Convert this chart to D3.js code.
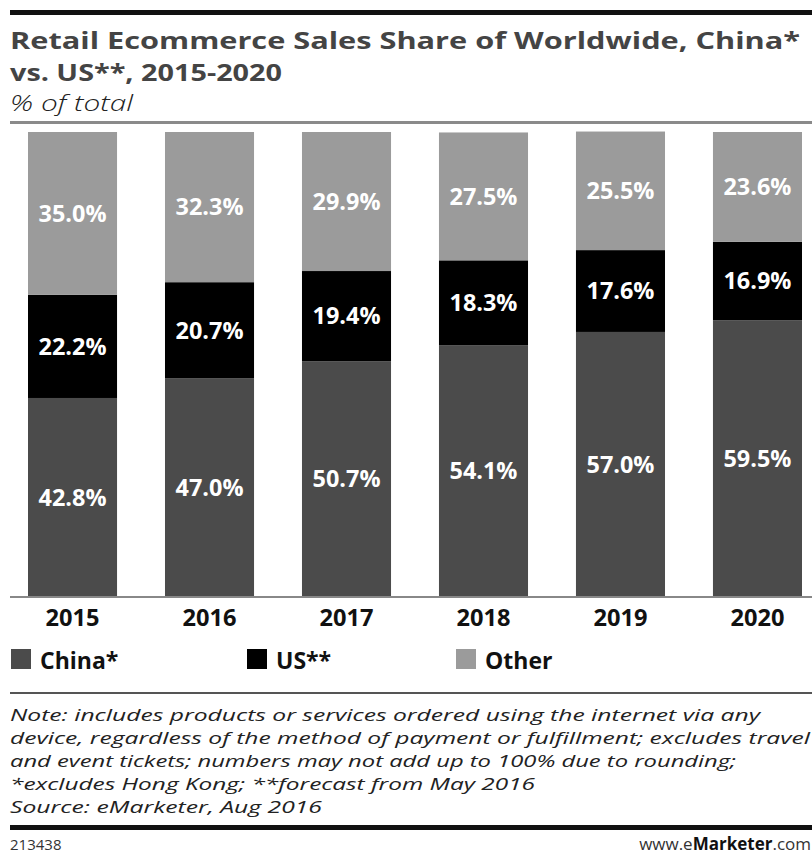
<!DOCTYPE html>
<html>
<head>
<meta charset="utf-8">
<script src="https://cdn.jsdelivr.net/npm/d3@7"></script>
<style>
  html, body { margin: 0; padding: 0; background: #fff; }
  svg { display: block; }
  text { font-family: "Open Sans", "Noto Sans", sans-serif; }
</style>
</head>
<body>
<svg id="chart" width="812" height="854"></svg>
<script>
// Share of worldwide retail ecommerce sales, % of total
const years = ["2015", "2016", "2017", "2018", "2019", "2020"];
const china = [42.8, 47.0, 50.7, 54.1, 57.0, 59.5];
const us = [22.2, 20.7, 19.4, 18.3, 17.6, 16.9];
const other = [35.0, 32.3, 29.9, 27.5, 25.5, 23.6];
const seriesNames = ["China*", "US**", "Other"];
const seriesKeys = ["china", "us", "other"];
const colors = ["#4b4b4b", "#000000", "#9b9b9b"];

const titleLines = ["Retail Ecommerce Sales Share of Worldwide, China*", "vs. US**, 2015-2020"];
const subtitle = "% of total";
const noteLines = [
  "Note: includes products or services ordered using the internet via any",
  "device, regardless of the method of payment or fulfillment; excludes travel",
  "and event tickets; numbers may not add up to 100% due to rounding;",
  "*excludes Hong Kong; **forecast from May 2016",
  "Source: eMarketer, Aug 2016"
];
const chartId = "213438";

const rows = years.map((y, i) => ({ year: y, china: china[i], us: us[i], other: other[i] }));

const svg = d3.select("#chart");

// Header rule, title and subtitle
svg.append("rect").attr("x", 10).attr("y", 10).attr("width", 802).attr("height", 5).attr("fill", "#111");

const titleWidths = [790, 272];
titleLines.forEach((t, i) => {
  svg.append("text")
    .attr("x", 10).attr("y", 49 + i * 32)
    .attr("font-size", 23.4).attr("font-weight", 700).attr("fill", "#444")
    .attr("textLength", titleWidths[i]).attr("lengthAdjust", "spacingAndGlyphs")
    .text(t);
});
svg.append("text")
  .attr("x", 10).attr("y", 111)
  .attr("font-size", 21.5).attr("font-style", "italic").attr("font-weight", 300).attr("fill", "#222")
  .attr("textLength", 123).attr("lengthAdjust", "spacingAndGlyphs")
  .text(subtitle);
svg.append("rect").attr("x", 10).attr("y", 121).attr("width", 802).attr("height", 3).attr("fill", "#8a8a8a");

// Scales
const x = d3.scaleBand().domain(years).range([28, 802]).paddingInner(0.35).paddingOuter(0);
const y = d3.scaleLinear().domain([0, 100]).range([597, 132]);

const stacked = d3.stack().keys(seriesKeys)(rows);

const layers = svg.append("g").selectAll("g")
  .data(stacked).join("g")
  .attr("fill", (d, i) => colors[i]);

layers.selectAll("rect")
  .data(d => d).join("rect")
  .attr("x", d => x(d.data.year))
  .attr("width", x.bandwidth())
  .attr("y", d => y(d[1]))
  .attr("height", d => y(d[0]) - y(d[1]));

// Value labels centred in each segment
const labels = svg.append("g");
stacked.forEach((layer) => {
  layer.forEach(d => {
    const v = d.data[layer.key];
    labels.append("text")
      .attr("x", x(d.data.year) + x.bandwidth() / 2)
      .attr("y", (y(d[0]) + y(d[1])) / 2)
      .attr("dy", "0.36em")
      .attr("text-anchor", "middle")
      .attr("font-size", 23).attr("font-weight", 700).attr("fill", "#fff")
      .attr("textLength", 68).attr("lengthAdjust", "spacingAndGlyphs")
      .text(v.toFixed(1) + "%");
  });
});

// Baseline and year axis
svg.append("rect").attr("x", 10).attr("y", 596).attr("width", 802).attr("height", 2).attr("fill", "#888");
const xAxis = svg.append("g")
  .attr("transform", "translate(0,598)")
  .call(d3.axisBottom(x).tickSize(0).tickPadding(0));
xAxis.select(".domain").remove();
xAxis.selectAll("text")
  .attr("y", 28).attr("dy", 0)
  .attr("font-family", "'Open Sans', sans-serif")
  .attr("font-size", 23).attr("font-weight", 700).attr("fill", "#111")
  .attr("textLength", 54).attr("lengthAdjust", "spacingAndGlyphs");

// Legend
const legendX = [11, 247, 456];
const legend = svg.append("g");
seriesNames.forEach((name, i) => {
  legend.append("rect").attr("x", legendX[i]).attr("y", 649).attr("width", 20).attr("height", 20).attr("fill", colors[i]);
  legend.append("text")
    .attr("x", legendX[i] + 29).attr("y", 669)
    .attr("font-size", 23).attr("font-weight", 700).attr("fill", "#111")
    .text(name);
});

// Notes
svg.append("rect").attr("x", 10).attr("y", 692).attr("width", 802).attr("height", 2).attr("fill", "#555");
const noteWidths = [750, 800, 726, 525, 312];
noteLines.forEach((t, i) => {
  svg.append("text")
    .attr("x", 10).attr("y", 721 + i * 23)
    .attr("font-size", 16.8).attr("font-style", "italic").attr("font-weight", 400).attr("fill", "#222")
    .attr("textLength", noteWidths[i]).attr("lengthAdjust", "spacingAndGlyphs")
    .text(t);
});

// Footer
svg.append("rect").attr("x", 10).attr("y", 825).attr("width", 802).attr("height", 5).attr("fill", "#111");
svg.append("text")
  .attr("x", 10).attr("y", 850)
  .attr("font-size", 15).attr("fill", "#333")
  .text(chartId);
const site = svg.append("text")
  .attr("x", 811).attr("y", 850)
  .attr("text-anchor", "end")
  .attr("font-size", 17).attr("fill", "#333");
site.append("tspan").text("www.e");
site.append("tspan").attr("font-weight", 700).attr("fill", "#111").text("Marketer");
site.append("tspan").text(".com");
</script>
</body>
</html>
